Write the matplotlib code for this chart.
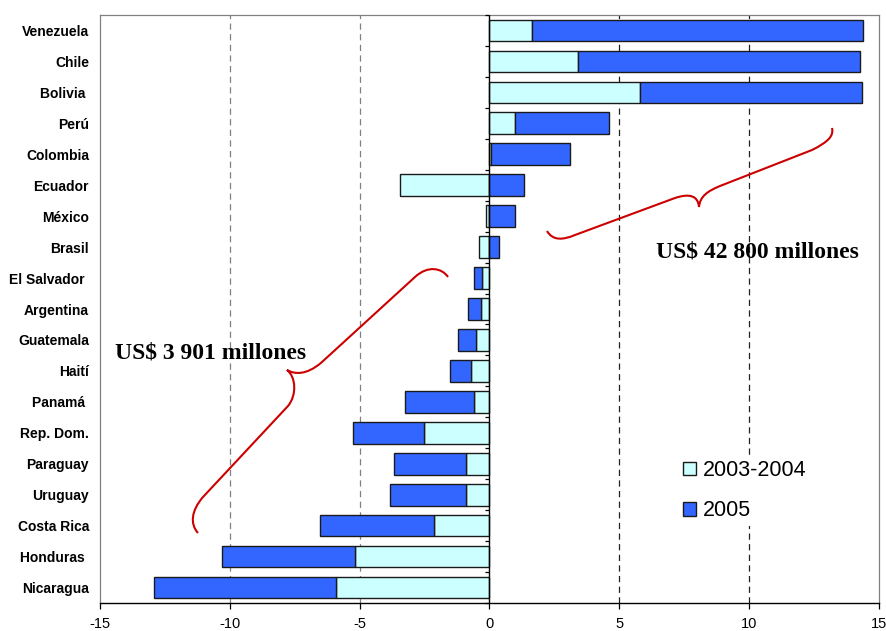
import matplotlib
matplotlib.use('Agg')
import matplotlib.pyplot as plt
import numpy as np
from matplotlib.path import Path
from matplotlib.patches import PathPatch
from matplotlib.transforms import Affine2D

plt.rcParams['font.family'] = ['Liberation Sans', 'DejaVu Sans']

# data (miles de millones US$)
countries = ['Venezuela', 'Chile', 'Bolivia ', 'Perú', 'Colombia', 'Ecuador',
             'México', 'Brasil', 'El Salvador ', 'Argentina', 'Guatemala',
             'Haití', 'Panamá ', 'Rep. Dom.', 'Paraguay', 'Uruguay',
             'Costa Rica', 'Honduras ', 'Nicaragua']
v_0304 = [1.65, 3.42, 5.79, 0.97, 0.06, -3.43, -0.14, -0.40, -0.27, -0.33,
          -0.53, -0.71, -0.58, -2.54, -0.90, -0.90, -2.15, -5.19, -5.90]
v_2005 = [12.75, 10.84, 8.55, 3.63, 3.04, 1.33, 0.98, 0.36, -0.32, -0.50,
          -0.68, -0.81, -2.69, -2.72, -2.79, -2.95, -4.38, -5.11, -7.02]
xticks = [-15, -10, -5, 0, 5, 10, 15]
label_pos = 'US$ 42 800 millones'
label_neg = 'US$ 3 901 millones'

C_LIGHT = '#CCFFFF'
C_BLUE = '#3366FF'

W, H = 887, 631
fig = plt.figure(figsize=(W / 100, H / 100), dpi=100)
ax = fig.add_axes([100 / W, 1 - 603 / H, 779 / W, 588 / H])

y = np.arange(len(countries))
a = np.array(v_0304)
b = np.array(v_2005)
# excel-style stacking: same sign stacks on top, opposite sign starts at zero
left_b = np.where(np.sign(a) == np.sign(b), a, 0.0)

for xv, col in [(-10, '#808080'), (-5, '#808080'), (5, '#222222'), (10, '#222222')]:
    ax.axvline(xv, color=col, lw=0.9, dashes=(5, 3.5), zorder=0)

ax.barh(y, a, height=0.7, color=C_LIGHT, edgecolor='#1a1a1a', lw=1.0,
        label='2003-2004', zorder=2)
ax.barh(y, b, left=left_b, height=0.7, color=C_BLUE, edgecolor='#1a1a1a',
        lw=1.0, label='2005', zorder=2)

ax.axvline(0, color='black', lw=1.0, zorder=3)
bounds = np.arange(-0.5, len(countries), 1.0)
ax.plot(np.zeros_like(bounds), bounds, linestyle='none', marker=0,
        markersize=3, color='black', mew=0.9, zorder=3, clip_on=False)

ax.set_xlim(-15, 15)
ax.set_ylim(len(countries) - 0.5, -0.5)
ax.set_xticks(xticks)
ax.set_xticklabels([str(t) for t in xticks], fontsize=10.5)
ax.set_yticks(y)
ax.set_yticklabels(countries, fontsize=10, fontweight='bold')
ax.tick_params(axis='y', length=0, pad=8)
ax.tick_params(axis='x', length=4, width=0.9, direction='out', pad=6)
for s in ['left', 'top', 'right']:
    ax.spines[s].set_color('#808080')
    ax.spines[s].set_linewidth(0.9)
ax.spines['bottom'].set_linewidth(1.0)

leg = ax.legend(loc='upper left', bbox_to_anchor=(668 / W, 1 - 445 / H),
                bbox_transform=fig.transFigure, fontsize=15.5, frameon=True,
                framealpha=1, edgecolor='none', facecolor='white',
                handlelength=0.6, handleheight=0.6, handletextpad=0.3,
                labelspacing=0.9, borderpad=0.2)

# annotations
fig.text(656 / W, 1 - 252 / H, label_pos, fontsize=17, fontweight='bold',
         family='Liberation Serif', va='center', ha='left')
fig.text(115 / W, 1 - 353 / H, label_neg, fontsize=17, fontweight='bold',
         family='Liberation Serif', va='center', ha='left')

# red curly braces, figure pixel coordinates (top-left origin)
px = Affine2D().scale(1 / W, -1 / H).translate(0, 1) + fig.transFigure
C4 = Path.CURVE4
brace_r = [
    ((547, 231), Path.MOVETO),
    ((553, 241), C4), ((563, 240), C4), ((575, 235), C4),
    ((675, 198), Path.LINETO),
    ((690, 193), C4), ((698, 196), C4), ((699, 207), C4),
    ((700, 196), C4), ((708, 191), C4), ((720, 186), C4),
    ((812, 150), Path.LINETO),
    ((828, 142), C4), ((834, 136), C4), ((832, 128), C4),
]
brace_l = [
    ((448, 277), Path.MOVETO),
    ((442, 268), C4), ((428, 265), C4), ((415, 277), C4),
    ((322, 362), Path.LINETO),
    ((306, 376), C4), ((294, 374), C4), ((287, 370), C4),
    ((296, 377), C4), ((297, 395), C4), ((288, 406), C4),
    ((203, 497), Path.LINETO),
    ((191, 511), C4), ((190, 524), C4), ((198, 533), C4),
]
for br in [brace_r, brace_l]:
    verts = [p for p, c in br]
    codes = [c for p, c in br]
    fig.patches.append(PathPatch(Path(verts, codes), transform=px,
                                 facecolor='none', edgecolor='#CC0000', lw=1.5))

fig.savefig('out.png', dpi=100)
